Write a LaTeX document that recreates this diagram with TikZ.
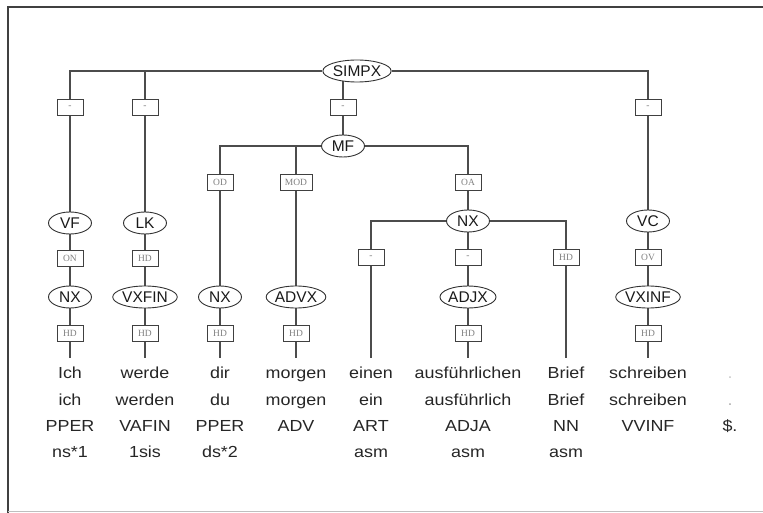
\documentclass[tikz,border=0pt]{standalone}
\usepackage{fontspec}
\setmainfont{Liberation Sans}
\newfontfamily\wordfont[FakeStretch=1.12]{Liberation Sans}
\newfontfamily\tagfont{Liberation Serif}
\usetikzlibrary{shapes.geometric,backgrounds}
\begin{document}
\begin{tikzpicture}[x=1pt,y=-1pt]
        \tikzstyle{cat}=[ellipse,draw=black!80,line width=0.9pt,fill=white,inner sep=0pt,minimum width=43pt,minimum height=22pt,font=\fontsize{15.5}{15.5}\selectfont,text height=11pt,text depth=0pt,text=black!90]
        \tikzstyle{fn}=[rectangle,draw=black!75,line width=0.8pt,fill=white,minimum width=26pt,minimum height=16pt,inner sep=1pt,font=\tagfont\fontsize{9.5}{9.5}\selectfont,text=black!50]
        \tikzstyle{word}=[font=\wordfont\fontsize{16}{16}\selectfont,text=black!85,text height=11.5pt,text depth=3pt,inner sep=0pt]
        \tikzstyle{edge}=[draw=black!70,line width=1.1pt]
        \useasboundingbox (0,0) rectangle (763,513);
        % frame
        \draw[black!75,line width=1.3pt] (8,513) -- (8,7) -- (763,7);
        \draw[black!25] (8,511) -- (763,511);
        % top level
        \node [cat] (simpx) at (357,71) {SIMPX};
        \node [fn] (b1) at (70,107) {-};
        \node [fn] (b2) at (145,107) {-};
        \node [fn] (b3) at (343,107) {-};
        \node [fn] (b4) at (648,107) {-};
        % fields
        \node [cat] (vf) at (70,223) {VF};
        \node [fn] (on) at (70,258) {ON};
        \node [cat] (nx1) at (70,297) {NX};
        \node [fn] (hd1) at (70,333) {HD};
        \node [cat] (lk) at (145,223) {LK};
        \node [fn] (hd2) at (145,258) {HD};
        \node [cat] (vxfin) at (145,297) {VXFIN};
        \node [fn] (hd3) at (145,333) {HD};
        \node [cat] (mf) at (343,146) {MF};
        \node [fn] (od) at (220,182) {OD};
        \node [fn,minimum width=32pt] (mod) at (296,182) {MOD};
        \node [fn] (oa) at (468,182) {OA};
        \node [cat] (nx2) at (220,297) {NX};
        \node [fn] (hd4) at (220,333) {HD};
        \node [cat] (advx) at (296,297) {ADVX};
        \node [fn] (hd5) at (296,333) {HD};
        \node [cat] (nx3) at (468,221) {NX};
        \node [fn] (d1) at (371,257) {-};
        \node [fn] (d2) at (468,257) {-};
        \node [fn] (hd7) at (566,257) {HD};
        \node [cat] (adjx) at (468,297) {ADJX};
        \node [fn] (hd6) at (468,333) {HD};
        \node [cat] (vc) at (648,221) {VC};
        \node [fn] (ov) at (648,257) {OV};
        \node [cat] (vxinf) at (648,297) {VXINF};
        \node [fn] (hd8) at (648,333) {HD};
        % line ends above the words
        \coordinate (e1) at (70,358);
        \coordinate (e2) at (145,358);
        \coordinate (e3) at (220,358);
        \coordinate (e4) at (296,358);
        \coordinate (e5) at (371,358);
        \coordinate (e6) at (468,358);
        \coordinate (e7) at (566,358);
        \coordinate (e8) at (648,358);
        % connectors
        \begin{scope}[on background layer]
          \path[edge] (b1) |- (simpx) -| (b4);
          \path[edge] (b2) -- (b2 |- simpx);
          \path[edge] (b3) -- (b3 |- simpx);
          \path[edge] (b1) -- (vf) -- (on) -- (nx1) -- (hd1) -- (e1);
          \path[edge] (b2) -- (lk) -- (hd2) -- (vxfin) -- (hd3) -- (e2);
          \path[edge] (b3) -- (mf);
          \path[edge] (od) |- (mf) -| (oa);
          \path[edge] (mod) -- (mod |- mf);
          \path[edge] (od) -- (nx2) -- (hd4) -- (e3);
          \path[edge] (mod) -- (advx) -- (hd5) -- (e4);
          \path[edge] (oa) -- (nx3);
          \path[edge] (d1) |- (nx3) -| (hd7);
          \path[edge] (d2) -- (nx3);
          \path[edge] (d1) -- (e5);
          \path[edge] (d2) -- (adjx) -- (hd6) -- (e6);
          \path[edge] (hd7) -- (e7);
          \path[edge] (b4) -- (vc) -- (ov) -- (vxinf) -- (hd8) -- (e8);
        \end{scope}
        % words
        \foreach \x/\name/\a/\b/\c/\d in {70/w1/Ich/ich/PPER/ns*1, 145/w2/werde/werden/VAFIN/1sis, 220/w3/dir/du/PPER/ds*2, 296/w4/morgen/morgen/ADV/, 371/w5/einen/ein/ART/asm, 468/w6/ausführlichen/ausführlich/ADJA/asm, 566/w7/Brief/Brief/NN/asm, 648/w8/schreiben/schreiben/VVINF/} {
          \node [word] (\name a) at (\x,374) {\a};
          \node [word] (\name b) at (\x,401) {\b};
          \node [word] (\name c) at (\x,427) {\c};
          \node [word] (\name d) at (\x,453) {\d};
        }
        \node [word,text=black!20] (w9a) at (730,374) {.};
        \node [word,text=black!30] (w9b) at (730,401) {.};
        \node [word] (w9c) at (730,427) {\$.};
\end{tikzpicture}
\end{document}
